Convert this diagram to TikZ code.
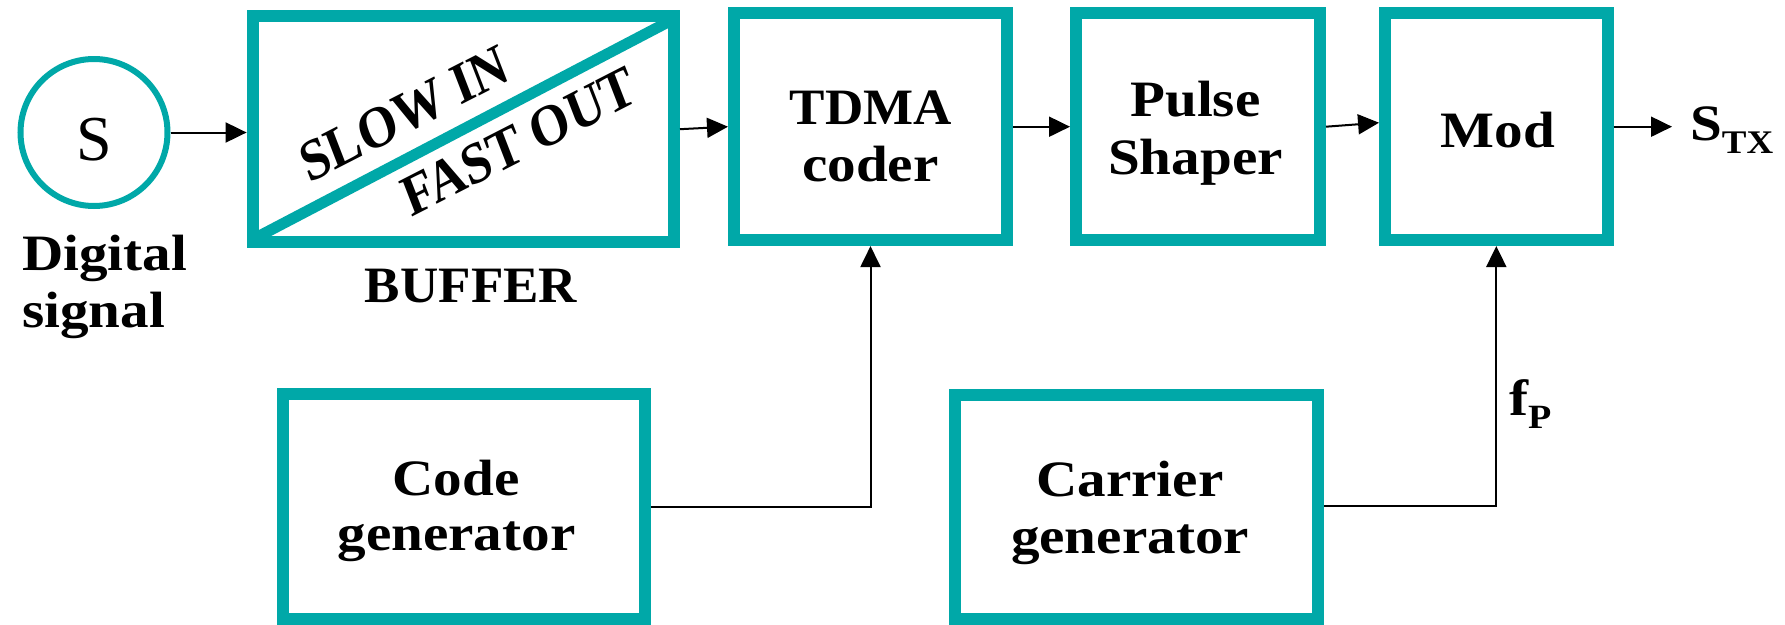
\documentclass[tikz,border=0pt]{standalone}
\usepackage{fontspec}
\setmainfont{Liberation Serif}
\newfontfamily\widefont[FakeStretch=1.12]{Liberation Serif}
\newfontfamily\capfont[FakeStretch=1.04]{Liberation Serif}
\usetikzlibrary{arrows.meta,calc}
\definecolor{teal}{RGB}{0,168,168}

\begin{document}
\begin{tikzpicture}[x=1pt,y=-1pt,
  blockbox/.style={draw=teal, line width=12pt, rectangle, inner sep=0pt, fill=white},
  srcnode/.style={draw=teal, line width=6pt, circle, inner sep=0pt, minimum size=147pt},
  lbl/.style={font=\widefont\bfseries\fontsize{51}{58}\selectfont, inner sep=0pt, anchor=base},
  caplbl/.style={lbl, font=\capfont\bfseries\fontsize{51}{58}\selectfont},
  rotlbl/.style={font=\fontsize{51}{56}\selectfont\bfseries, inner sep=0pt, rotate=24, transform shape},
  arr/.style={line width=2pt, -{Triangle[length=21pt,width=20pt]}},
  wire/.style={line width=2pt}
]
\useasboundingbox (0,0) rectangle (1785,624);

% source
\node[srcnode] (src) at (94,132.5) {};
\node[font=\fontsize{64}{64}\selectfont, inner sep=0pt, anchor=base] (srcS) at (94,160) {S};
\node[lbl, anchor=base west] (digA) at (22,270) {Digital};
\node[lbl, anchor=base west] (digB) at (22,327) {signal};

% buffer with diagonal split
\node[blockbox, minimum width=421.4pt, minimum height=226.3pt] (buf) at (463.3,129.2) {};
\coordinate (dgA) at ($(buf.south west)+(12,-12)$);
\coordinate (dgB) at ($(buf.north east)+(-12,12)$);
\draw[teal, line width=11pt] (dgA) -- (dgB);
\begin{scope}[shift={(404,114)}, yscale=1.15]
  \node[rotlbl] (slow) at (0,0) {SLOW IN};
\end{scope}
\begin{scope}[shift={(519,141.5)}, yscale=1.15]
  \node[rotlbl] (fast) at (0,0) {FAST OUT};
\end{scope}
\node[caplbl] (bufT) at (471,302) {BUFFER};

% main chain
\node[blockbox, minimum width=273pt, minimum height=226.7pt] (tdma) at (870.5,126.7) {};
\node[caplbl] (tdmaA) at (871,124) {TDMA};
\node[lbl] (tdmaB) at (870.5,181.7) {coder};

\node[blockbox, minimum width=244pt, minimum height=226.7pt] (pulse) at (1198,126.7) {};
\node[lbl] (pulseA) at (1195.5,116.7) {Pulse};
\node[lbl] (pulseB) at (1195.5,174.3) {Shaper};

\node[blockbox, minimum width=222.5pt, minimum height=226.7pt] (mod) at (1496.3,126.7) {};
\node[lbl] (modT) at (1498,147) {Mod};

\node[lbl, anchor=base west] (stx) at (1690,140)
  {S\raisebox{-13pt}{\fontsize{33}{33}\selectfont TX}};

% generators
\node[blockbox, minimum width=362pt, minimum height=224.7pt] (code) at (464,506.7) {};
\node[lbl] (codeA) at (456,495) {Code};
\node[lbl] (codeB) at (456.4,550) {generator};

\node[blockbox, minimum width=363pt, minimum height=223.7pt] (car) at (1136.5,507.2) {};
\node[lbl] (carA) at (1130,496.7) {Carrier};
\node[lbl] (carB) at (1130,553.3) {generator};

\node[lbl, anchor=base west] (fp) at (1509,415)
  {f\raisebox{-13pt}{\fontsize{34}{34}\selectfont P}};

% connectors
\draw[arr] (src.east) -- (src.east -| buf.west);
\draw[arr] (buf.east) -- (tdma.west);
\draw[arr] (tdma.east) -- (pulse.west);
\draw[arr] (pulse.east) -- ([yshift=4pt]mod.west);
\draw[arr, shorten >=18pt] (mod.east) -- (mod.east -| stx.west);
\draw[arr] (code.east) -| (tdma.south);
\draw[arr] ([yshift=1.5pt]car.east) -| (mod.south);
\end{tikzpicture}
\end{document}
